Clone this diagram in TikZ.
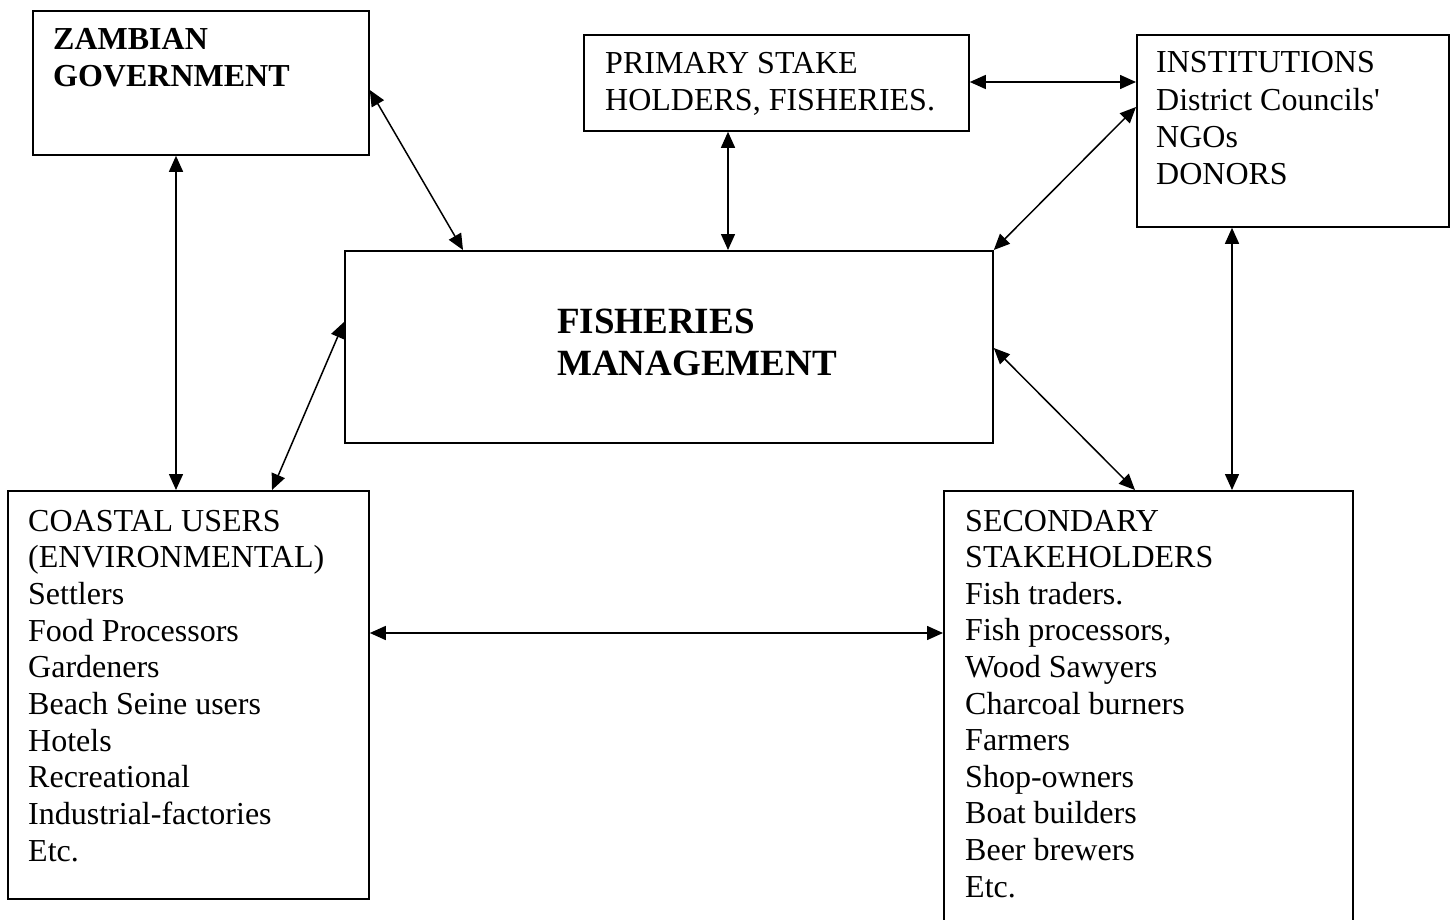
\documentclass[tikz,border=0pt]{standalone}
\usepackage{fontspec}
\setmainfont{Liberation Serif}
\usetikzlibrary{arrows.meta}
\newcommand{\linestack}[2]{\vtop{\baselineskip=#1\lineskiplimit=-100pt\lineskip=0pt\halign{##\hfil\cr#2\crcr}}}
\tikzset{
  box/.style={draw, line width=1.8pt, inner sep=0pt, anchor=north west},
  txt/.style={anchor=base west, inner sep=0pt, font=\fontsize{32}{36.7}\selectfont},
  btxt/.style={anchor=base west, inner sep=0pt, font=\fontsize{32}{37}\selectfont\bfseries},
  ftxt/.style={anchor=base west, inner sep=0pt, font=\fontsize{37}{42}\selectfont\bfseries},
  link/.style={line width=1.5pt, {Triangle[length=16pt,width=14pt]}-{Triangle[length=16pt,width=14pt]}}
}
\begin{document}
\begin{tikzpicture}[x=1pt,y=-1pt]
\useasboundingbox (0,0) rectangle (1455,920);
\clip (0,0) rectangle (1455,920);
% boxes
\node[box, minimum width=336pt, minimum height=144pt] (gov) at (32,10) {};
\node[box, minimum width=385pt, minimum height=96pt] (prim) at (583,34) {};
\node[box, minimum width=312pt, minimum height=192pt] (inst) at (1136,34) {};
\node[box, minimum width=648pt, minimum height=192pt] (fm) at (344,250) {};
\node[box, minimum width=361pt, minimum height=408pt] (coast) at (7,490) {};
\node[box, minimum width=409pt, minimum height=450pt] (sec) at (943,490) {};
% texts
\node[btxt] (govt) at (53,50) {\linestack{37pt}{ZAMBIAN\cr GOVERNMENT}};
\node[txt] (primt) at (605,74) {\linestack{37pt}{PRIMARY STAKE\cr HOLDERS, FISHERIES.}};
\node[txt] (instt) at (1156,73) {\linestack{37.3pt}{INSTITUTIONS\cr District Councils\textquotesingle\cr NGOs\cr DONORS}};
\node[ftxt] (fmt) at (557,333) {\linestack{42pt}{FISHERIES\cr MANAGEMENT}};
\node[txt] (coastt) at (28,531) {\linestack{36.7pt}{COASTAL USERS\cr (ENVIRONMENTAL)\cr Settlers\cr Food Processors\cr Gardeners\cr Beach Seine users\cr Hotels\cr Recreational\cr Industrial-factories\cr Etc.}};
\node[txt] (sect) at (965,531) {\linestack{36.6pt}{SECONDARY\cr STAKEHOLDERS\cr Fish traders.\cr Fish processors,\cr Wood Sawyers\cr Charcoal burners\cr Farmers\cr Shop-owners\cr Boat builders\cr Beer brewers\cr Etc.}};
% connectors
\draw[link] (gov.south west -| 176,0) -- (coast.north west -| 176,0);
\draw[link] (gov.north east |- 0,90) -- (fm.north west -| 463,0);
\draw[link] (prim.south west -| 728,0) -- (fm.north west -| 728,0);
\draw[link] (prim.north east |- 0,82) -- (inst.north west |- 0,82);
\draw[link] (inst.north west |- 0,107) -- (fm.north east);
\draw[link] (inst.south west -| 1232,0) -- (sec.north west -| 1232,0);
\draw[link] (fm.north east |- 0,348) -- (sec.north west -| 1135,0);
\draw[link] (fm.north west |- 0,322) -- (coast.north west -| 272,0);
\draw[link] (coast.north east |- 0,633) -- (sec.north west |- 0,633);
\end{tikzpicture}
\end{document}
